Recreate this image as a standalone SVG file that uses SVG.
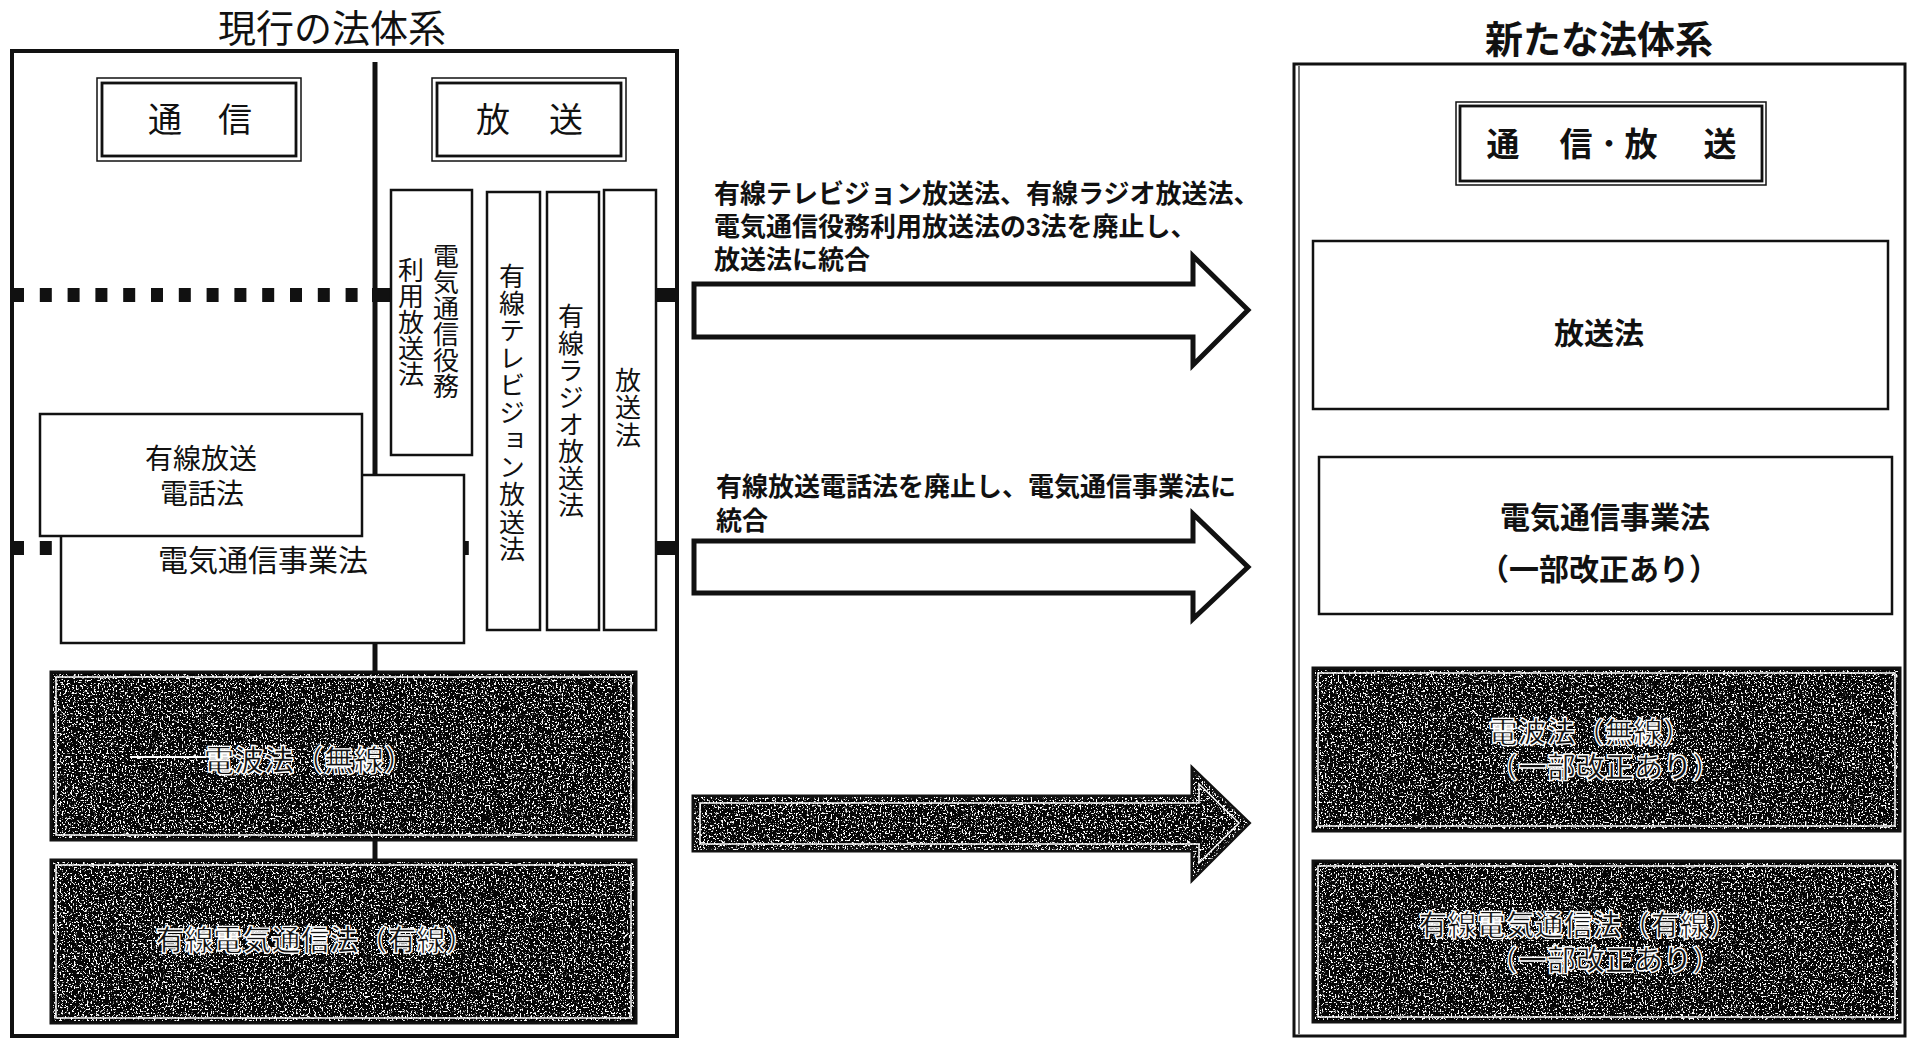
<svg xmlns="http://www.w3.org/2000/svg" width="1909" height="1039" viewBox="0 0 1909 1039">
<defs>
<style>
 .reg { font-family: "Liberation Sans", "Noto Sans CJK JP", sans-serif; font-weight: 400; fill: #111; }
 .bold { font-family: "Liberation Sans", "Noto Sans CJK JP", sans-serif; font-weight: 700; fill: #111; }
 .vreg { font-family: "Noto Sans CJK JP", "Noto Sans", sans-serif; font-weight: 400; fill: #111; writing-mode: vertical-rl; text-orientation: upright; }
 .box { fill: #fff; stroke: #111; stroke-width: 2.5; }
 .thin { fill: none; stroke: #111; stroke-width: 1.5; }
 .thick { fill: none; stroke: #111; stroke-width: 2.8; }
 .dark { fill: #050505; stroke: #111; stroke-width: 3; }
 .inner { fill: none; stroke: #fff; stroke-width: 1.5; }
 .wt { font-family: "Liberation Sans", "Noto Sans CJK JP", sans-serif; font-weight: 700; fill: #111; stroke: #fff; stroke-width: 1.4; }
 .ln { stroke: #111; fill: none; }
</style>
<filter id="spk" x="0" y="0" width="100%" height="100%" color-interpolation-filters="sRGB">
 <feTurbulence type="fractalNoise" baseFrequency="0.55" numOctaves="3" seed="4"/>
 <feColorMatrix type="matrix" values="0 0 0 0 1  0 0 0 0 1  0 0 0 0 1  12 0 0 0 -6.8"/>
</filter>
<clipPath id="a3clip"><path d="M694,797 H1193 V770 L1248,823 L1193,878 V850 H694 Z"/></clipPath>
</defs>
<rect width="1909" height="1039" fill="#fff"/>

<!-- left frame -->
<g id="current-system">
 <text class="reg" x="332" y="29" font-size="38" text-anchor="middle" dominant-baseline="central">現行の法体系</text>
 <rect x="12" y="51" width="665" height="985" fill="none" stroke="#111" stroke-width="4"/>
</g>

<g id="dividers">
 <line class="ln" x1="375" y1="62" x2="375" y2="475" stroke-width="5"/>
 <line class="ln" x1="375" y1="643" x2="375" y2="672" stroke-width="5"/>
 <line class="ln" x1="375" y1="840" x2="375" y2="860" stroke-width="5"/>
 <line class="ln" x1="12" y1="295" x2="366" y2="295" stroke-width="14" stroke-dasharray="12 15.8"/>
 <rect x="372" y="288" width="18" height="14" fill="#111"/>
 <rect x="656" y="288" width="19" height="14" fill="#111"/>
 <line class="ln" x1="12" y1="548" x2="472" y2="548" stroke-width="14" stroke-dasharray="12 15.8"/>
 <rect x="656" y="541" width="19" height="14" fill="#111"/>
</g>

<g id="tsushin">
 <rect class="thin" x="97" y="78" width="204" height="83"/>
 <rect class="thick" x="102" y="83" width="194" height="73"/>
 <text class="reg" font-size="34" dominant-baseline="central" text-anchor="middle"><tspan x="165" y="120">通</tspan><tspan x="235" y="120">信</tspan></text>
</g>

<g id="hoso">
 <rect class="thin" x="432" y="78" width="194" height="83"/>
 <rect class="thick" x="437" y="83" width="184" height="73"/>
 <text class="reg" font-size="34" dominant-baseline="central" text-anchor="middle"><tspan x="493" y="120">放</tspan><tspan x="566" y="120">送</tspan></text>
</g>

<g id="col-denki-ekimu">
 <rect class="box" x="391" y="190" width="81" height="265"/>
 <text class="vreg" x="446" y="243" font-size="26">電気通信役務</text>
 <text class="vreg" x="411" y="257" font-size="26">利用放送法</text>
</g>
<g id="col-yusen-tv">
 <rect class="box" x="487" y="192" width="53" height="438"/>
 <text class="vreg" x="512" y="263" font-size="26" letter-spacing="1.3">有線テレビジョン放送法</text>
</g>
<g id="col-yusen-radio">
 <rect class="box" x="547" y="192" width="52" height="438"/>
 <text class="vreg" x="571" y="303" font-size="26" letter-spacing="1">有線ラジオ放送法</text>
</g>
<g id="col-hosoho">
 <rect class="box" x="604" y="190" width="52" height="440"/>
 <text class="vreg" x="628" y="367" font-size="26" letter-spacing="1.5">放送法</text>
</g>

<g id="denki-jigyo-old">
 <rect class="box" x="61" y="475" width="403" height="168"/>
 <text class="reg" x="263" y="560" font-size="30" text-anchor="middle" dominant-baseline="central">電気通信事業法</text>
</g>
<g id="yusen-hoso-denwa">
 <rect class="box" x="40" y="414" width="322" height="122"/>
 <text class="reg" font-size="28" text-anchor="middle" dominant-baseline="central"><tspan x="201" y="459">有線放送</tspan><tspan x="202" y="494">電話法</tspan></text>
</g>

<g id="denpa-old">
 <rect class="dark" x="51" y="672" width="585" height="168"/>
 <rect x="53" y="674" width="581" height="164" fill="#fff" filter="url(#spk)"/>
 <rect class="inner" x="56" y="677" width="575" height="158"/>
 <line x1="130" y1="757" x2="205" y2="757" stroke="#fff" stroke-width="2"/>
 <text class="wt" x="309" y="760" font-size="30" text-anchor="middle" dominant-baseline="central">電波法（無線）</text>
</g>
<g id="yusen-denki-old">
 <rect class="dark" x="51" y="860" width="585" height="163"/>
 <rect x="53" y="862" width="581" height="159" fill="#fff" filter="url(#spk)"/>
 <rect class="inner" x="56" y="865" width="575" height="153"/>
 <text class="wt" x="315" y="941" font-size="29" text-anchor="middle" dominant-baseline="central">有線電気通信法（有線）</text>
</g>

<!-- connectors -->
<g id="connectors">
 <path d="M694,284 H1193 V256 L1248,310 L1193,365 V337 H694 Z" fill="#fff" stroke="#111" stroke-width="5" stroke-linejoin="miter"/>
 <text class="bold" font-size="26" dominant-baseline="central"><tspan x="714" y="194">有線テレビジョン放送法、有線ラジオ放送法、</tspan><tspan x="714" y="227">電気通信役務利用放送法の3法を廃止し、</tspan><tspan x="714" y="260">放送法に統合</tspan></text>
 <path d="M694,541 H1193 V514 L1248,567 L1193,619 V593 H694 Z" fill="#fff" stroke="#111" stroke-width="5"/>
 <text class="bold" font-size="26" dominant-baseline="central"><tspan x="716" y="487">有線放送電話法を廃止し、電気通信事業法に</tspan><tspan x="716" y="521">統合</tspan></text>
 <path d="M694,797 H1193 V770 L1248,823 L1193,878 V850 H694 Z" fill="#050505" stroke="#111" stroke-width="5"/>
 <rect x="694" y="770" width="555" height="108" fill="#fff" filter="url(#spk)" clip-path="url(#a3clip)"/>
 <path d="M700,803 H1199 V784 L1239,823 L1199,863 V844 H700 Z" fill="none" stroke="#fff" stroke-width="1.5"/>
</g>

<!-- right frame -->
<g id="new-system">
 <text class="bold" x="1599" y="40" font-size="38" text-anchor="middle" dominant-baseline="central">新たな法体系</text>
 <rect x="1294" y="64" width="611" height="972" fill="none" stroke="#111" stroke-width="3"/>
 <line class="ln" x1="1299" y1="66" x2="1299" y2="1034" stroke-width="1.2"/>
</g>

<g id="tsushin-hoso">
 <rect class="thin" x="1456" y="102" width="310" height="83"/>
 <rect class="thick" x="1460" y="106" width="302" height="75"/>
 <text class="bold" font-size="33" dominant-baseline="central" text-anchor="middle"><tspan x="1503" y="144">通</tspan><tspan x="1576" y="144">信</tspan><tspan x="1609" y="144" font-size="26">・</tspan><tspan x="1641" y="144">放</tspan><tspan x="1720" y="144">送</tspan></text>
</g>

<g id="hosoho-new">
 <rect class="box" x="1313" y="241" width="575" height="168"/>
 <text class="bold" x="1599" y="333" font-size="30" text-anchor="middle" dominant-baseline="central">放送法</text>
</g>

<g id="denki-jigyo-new">
 <rect class="box" x="1319" y="457" width="573" height="157"/>
 <text class="bold" font-size="30" text-anchor="middle" dominant-baseline="central"><tspan x="1605" y="517">電気通信事業法</tspan><tspan x="1599" y="569">（一部改正あり）</tspan></text>
</g>

<g id="denpa-new">
 <rect class="dark" x="1313" y="668" width="587" height="163"/>
 <rect x="1315" y="670" width="583" height="159" fill="#fff" filter="url(#spk)"/>
 <rect class="inner" x="1318" y="673" width="577" height="153"/>
 <text class="wt" font-size="29" text-anchor="middle" dominant-baseline="central"><tspan x="1590" y="733">電波法（無線）</tspan><tspan x="1605" y="768">（一部改正あり）</tspan></text>
</g>

<g id="yusen-denki-new">
 <rect class="dark" x="1313" y="861" width="587" height="161"/>
 <rect x="1315" y="863" width="583" height="157" fill="#fff" filter="url(#spk)"/>
 <rect class="inner" x="1318" y="866" width="577" height="151"/>
 <text class="wt" font-size="29" text-anchor="middle" dominant-baseline="central"><tspan x="1578" y="926">有線電気通信法（有線）</tspan><tspan x="1605" y="961">（一部改正あり）</tspan></text>
</g>
</svg>
